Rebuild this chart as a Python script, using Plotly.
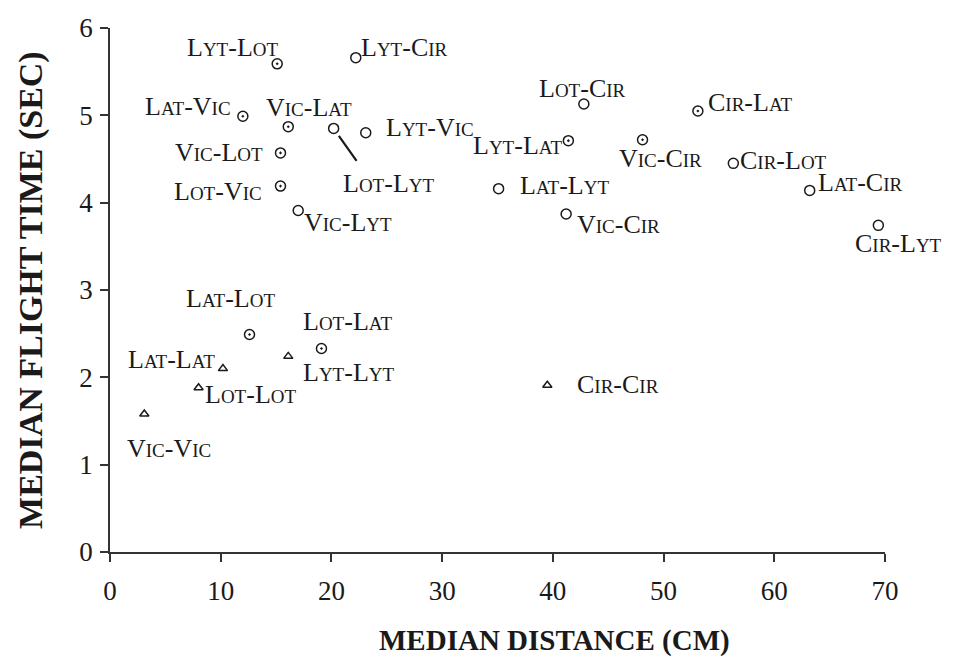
import plotly.graph_objects as go

# ---- data ----
dot_names = ["Lyt-Lot", "Lat-Vic", "Vic-Lat", "Vic-Lot", "Lot-Vic", "Cir-Lat",
             "Lyt-Lat", "Vic-Cir", "Lat-Lot", "Lot-Lat"]
dot_x = [15.1, 12.0, 16.1, 15.4, 15.4, 53.1, 41.4, 48.1, 12.6, 19.1]
dot_y = [5.59, 4.99, 4.87, 4.57, 4.19, 5.05, 4.71, 4.72, 2.49, 2.33]

open_names = ["Lyt-Cir", "Lot-Lyt", "Lyt-Vic", "Vic-Lyt", "Lot-Cir", "Cir-Lot",
              "Lat-Cir", "Lat-Lyt", "Vic-Cir", "Cir-Lyt"]
open_x = [22.2, 20.2, 23.1, 17.0, 42.8, 56.3, 63.2, 35.1, 41.2, 69.4]
open_y = [5.66, 4.85, 4.80, 3.91, 5.13, 4.45, 4.14, 4.16, 3.87, 3.74]

tri_names = ["Lat-Lat", "Lyt-Lyt", "Lot-Lot", "Vic-Vic", "Cir-Cir"]
tri_x = [10.2, 16.1, 8.0, 3.1, 39.5]
tri_y = [2.10, 2.24, 1.88, 1.58, 1.91]

x_ticks = [0, 10, 20, 30, 40, 50, 60, 70]
y_ticks = [0, 1, 2, 3, 4, 5, 6]

# ---- label placement (pixel offsets from each point) ----
label_offsets = {
    ("dot", 0): (-45, -16), ("dot", 1): (-55, -10), ("dot", 2): (21, -19),
    ("dot", 3): (-62, 0), ("dot", 4): (-63, 5), ("dot", 5): (53, -8),
    ("dot", 6): (-51, 5), ("dot", 7): (18, 19), ("dot", 8): (-19, -36),
    ("dot", 9): (26, -27),
    ("open", 0): (49, -10), ("open", 1): (55, 55), ("open", 2): (64, -5),
    ("open", 3): (50, 12), ("open", 4): (-1, -15), ("open", 5): (50, -3),
    ("open", 6): (50, -8), ("open", 7): (66, -3), ("open", 8): (52, 10),
    ("open", 9): (20, 18),
    ("tri", 0): (-51, -9), ("tri", 1): (60, 16), ("tri", 2): (52, 7),
    ("tri", 3): (25, 34), ("tri", 4): (71, -1),
}

SERIF = "Liberation Serif, Times New Roman, serif"
INK = "#1a1a1a"
FULL = 26
SMALL = 19


def small_caps(name):
    out = []
    for part in name.split("-"):
        out.append(part[0].upper() +
                   "<span style='font-size:%dpx'>%s</span>" % (SMALL, part[1:].upper()))
    return "-".join(out)


fig = go.Figure()
fig.add_trace(go.Scatter(x=dot_x, y=dot_y, mode="markers",
                         marker=dict(symbol="circle-dot", size=10, color="white",
                                     line=dict(color=INK, width=1.5)),
                         hoverinfo="skip"))
fig.add_trace(go.Scatter(x=open_x, y=open_y, mode="markers",
                         marker=dict(symbol="circle-open", size=10, color=INK,
                                     line=dict(color=INK, width=1.5)),
                         hoverinfo="skip"))
fig.add_trace(go.Scatter(x=tri_x, y=tri_y, mode="markers",
                         marker=dict(symbol="triangle-up-open", size=8, color=INK,
                                     line=dict(color=INK, width=1.5)),
                         hoverinfo="skip"))

groups = {"dot": (dot_names, dot_x, dot_y),
          "open": (open_names, open_x, open_y),
          "tri": (tri_names, tri_x, tri_y)}
for g, (names, xs, ys) in groups.items():
    for i, (n, xv, yv) in enumerate(zip(names, xs, ys)):
        dx, dy = label_offsets[(g, i)]
        fig.add_annotation(x=xv, y=yv, text=small_caps(n), showarrow=False,
                           xshift=dx, yshift=-dy,
                           font=dict(family=SERIF, size=FULL, color=INK))

# leader line for Lot-Lyt
fig.add_annotation(x=open_x[1], y=open_y[1], ax=24, ay=34, axref="pixel", ayref="pixel",
                   text="", showarrow=True, arrowhead=0, arrowwidth=2.2, arrowcolor=INK,
                   standoff=9, startstandoff=0)

axis_common = dict(ticks="outside", ticklen=8, tickwidth=1.5, tickcolor="#333",
                   showline=True, linecolor="#333", linewidth=1.6, showgrid=False,
                   zeroline=False, tickfont=dict(family=SERIF, size=27, color=INK))
fig.update_xaxes(range=[0, 70], tickvals=x_ticks, ticklabelstandoff=6, **axis_common)
fig.update_yaxes(range=[0, 6], tickvals=y_ticks, ticklabelstandoff=2, **axis_common)

fig.add_annotation(xref="paper", yref="paper", x=0.574, y=-0.168,
                   xanchor="center", yanchor="middle",
                   text="<b>MEDIAN DISTANCE (CM)</b>", showarrow=False,
                   font=dict(family=SERIF, size=29, color=INK))
fig.add_annotation(xref="paper", yref="paper", x=-0.102, y=0.5, textangle=-90,
                   xanchor="center", yanchor="middle",
                   text="<b>MEDIAN FLIGHT TIME (SEC)</b>", showarrow=False,
                   font=dict(family=SERIF, size=34, color=INK))

fig.update_layout(width=959, height=666, showlegend=False,
                  margin=dict(l=110, r=74, t=28, b=114),
                  plot_bgcolor="white", paper_bgcolor="white")

fig.write_html("out.html")
